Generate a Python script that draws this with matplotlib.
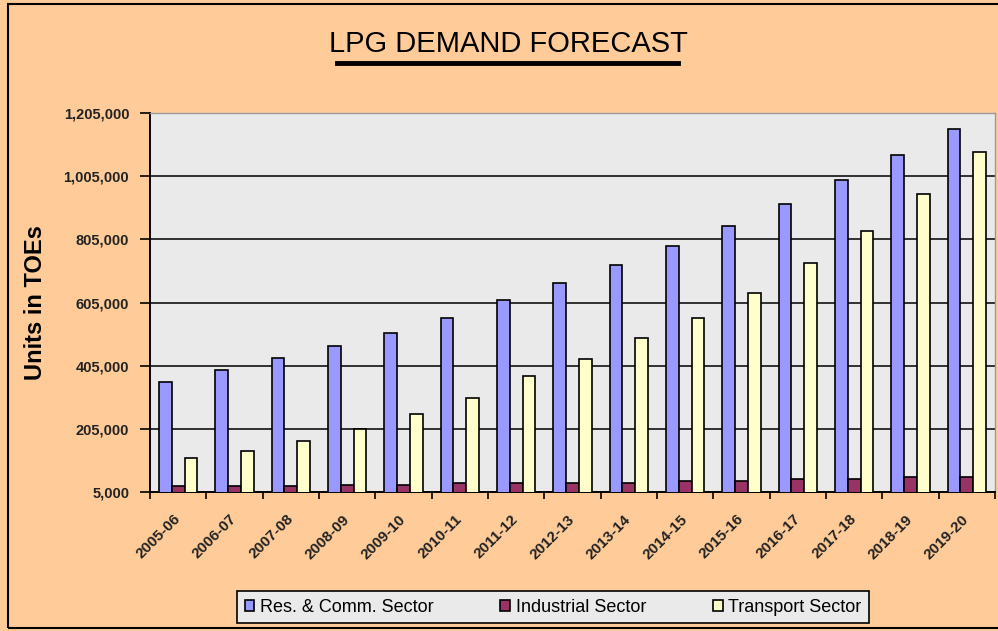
import matplotlib.pyplot as plt
import numpy as np
from matplotlib.lines import Line2D
from matplotlib.patches import Rectangle

YEARS = ["2005-06", "2006-07", "2007-08", "2008-09", "2009-10", "2010-11", "2011-12",
         "2012-13", "2013-14", "2014-15", "2015-16", "2016-17", "2017-18", "2018-19", "2019-20"]

RES_COMM = [354000, 391000, 428000, 467000, 509000, 556000, 613000, 667000,
            724000, 784000, 847000, 917000, 993000, 1072000, 1153000]
INDUSTRIAL = [24000, 24000, 24000, 28000, 28000, 34000, 35000, 35000,
              35000, 41000, 41000, 46000, 46000, 51000, 51000]
TRANSPORT = [114000, 135000, 167000, 205000, 252000, 303000, 372000, 426000,
             493000, 556000, 635000, 730000, 831000, 948000, 1082000]

Y_TICKS = [5000, 205000, 405000, 605000, 805000, 1005000, 1205000]

SERIES = [
    ("Res. & Comm. Sector", RES_COMM, "#9999FF"),
    ("Industrial Sector", INDUSTRIAL, "#993366"),
    ("Transport Sector", TRANSPORT, "#FFFFCC"),
]

BG = "#FFCC99"
PLOT_BG = "#EAEAEA"

plt.rcParams["font.family"] = ["Liberation Sans", "DejaVu Sans"]

fig = plt.figure(figsize=(9.98, 6.31), dpi=100)
fig.patch.set_facecolor(BG)
ax = fig.add_axes([150 / 998, 1 - 492 / 631, 845 / 998, 379 / 631])
ax.set_facecolor(PLOT_BG)

x = np.arange(len(YEARS))
w = 0.225
for i, (name, vals, col) in enumerate(SERIES):
    ax.bar(x + (i - 1) * w, vals, width=w, color=col, edgecolor="black",
           linewidth=1.2, label=name, zorder=3)

ax.set_xlim(-0.5, len(YEARS) - 0.5)
ax.set_ylim(Y_TICKS[0], Y_TICKS[-1])
ax.set_yticks(Y_TICKS)
ax.set_yticklabels([f"{v:,}" for v in Y_TICKS], fontsize=10.5, fontweight="bold",
                   color="#222222")
ax.yaxis.grid(True, color="black", linewidth=1.1, zorder=1)
ax.set_axisbelow(True)

ax.set_xticks(np.arange(len(YEARS) + 1) - 0.5)
ax.set_xticklabels([])
ax.set_xticks(x, minor=True)
ax.set_xticklabels(YEARS, minor=True, rotation=45, ha="right", va="center",
                   rotation_mode="anchor", fontsize=11, fontweight="bold", color="#222222")
ax.tick_params(axis="x", which="minor", length=0, pad=18)
ax.tick_params(axis="x", which="major", length=5, width=1.2, direction="out")
ax.tick_params(axis="y", length=7, width=1.2, direction="out", pad=8)

for s in ["top", "right"]:
    ax.spines[s].set_color("#999999")
    ax.spines[s].set_linewidth(1)
for s in ["left", "bottom"]:
    ax.spines[s].set_color("black")
    ax.spines[s].set_linewidth(1.4)

ax.set_ylabel("Units in TOEs", fontsize=17, fontweight="bold", labelpad=12)

# title with thick underline
fig.text(508 / 998, 1 - 44 / 631, "LPG DEMAND FORECAST", ha="center", va="center",
         fontsize=21, color="black")
fig.add_artist(Line2D([337 / 998, 678 / 998], [1 - 63 / 631, 1 - 63 / 631],
                      color="black", linewidth=3.5, transform=fig.transFigure))

# outer border of the chart area
fig.add_artist(Rectangle((8 / 998, 1 - 628 / 631), 1.2, 624 / 631, transform=fig.transFigure,
                         fill=False, edgecolor="black", linewidth=1.5))

leg = fig.legend(loc="center", bbox_to_anchor=(553 / 998, 1 - 607 / 631), ncol=3,
                 frameon=True, fancybox=False, fontsize=13, handlelength=0.55,
                 handleheight=0.55, handletextpad=0.3, columnspacing=3.7,
                 borderpad=0.4, borderaxespad=0)
leg.get_frame().set_facecolor(PLOT_BG)
leg.get_frame().set_edgecolor("black")
leg.get_frame().set_linewidth(1.2)
leg.get_frame().set_alpha(1)

fig.savefig("out.png", dpi=100, facecolor=BG)
